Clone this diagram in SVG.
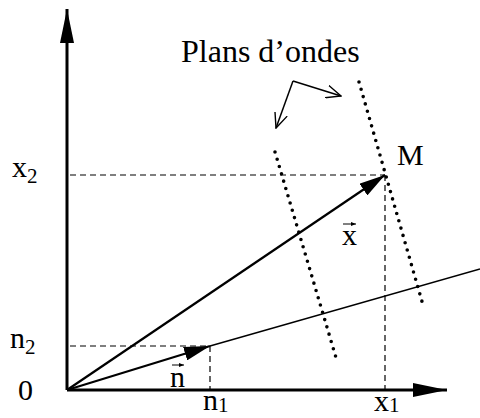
<svg xmlns="http://www.w3.org/2000/svg" width="480" height="418" viewBox="0 0 480 418">
<style>
text{font-family:"Liberation Serif","Times New Roman",serif;font-size:30px;fill:#000}
.title{font-size:32px}
.sub{font-size:21px}
.axis{stroke:#000;stroke-width:3;fill:none}
.dash{stroke:#000;stroke-width:1.2;stroke-dasharray:6 4;fill:none}
.dot{stroke:#000;stroke-width:3.6;stroke-linecap:round;stroke-dasharray:0 7.6;fill:none}
.thin{stroke:#000;stroke-width:1.5;fill:none}
.vecline{stroke:#000;stroke-width:2.2;fill:none}
.acc{stroke:#000;stroke-width:1;fill:none}
</style>
<defs>
<marker id="axhead" viewBox="0 0 34 14" refX="34" refY="7" markerWidth="34" markerHeight="14" markerUnits="userSpaceOnUse" orient="auto">
<path d="M0,0 L34,7 L0,14 z" fill="#000"/>
</marker>
<marker id="vhead" viewBox="0 0 26 14" refX="26" refY="7" markerWidth="26" markerHeight="14" markerUnits="userSpaceOnUse" orient="auto">
<path d="M0,0 L26,7 L0,14 z" fill="#000"/>
</marker>
<marker id="open" viewBox="0 0 16 14" refX="15" refY="7" markerWidth="16" markerHeight="14" markerUnits="userSpaceOnUse" orient="auto">
<path d="M0,0.5 L15,7 L0,13.5" fill="none" stroke="#000" stroke-width="1.4"/>
</marker>
<marker id="acchead" viewBox="0 0 5 4" refX="5" refY="2" markerWidth="5" markerHeight="4" markerUnits="userSpaceOnUse" orient="auto">
<path d="M0,0 L5,2 L0,4 z" fill="#000"/>
</marker>
</defs>
<g id="axes">
<line class="axis" x1="67" y1="390" x2="67" y2="9" marker-end="url(#axhead)"/>
<line class="axis" x1="67" y1="390" x2="447" y2="390" marker-end="url(#axhead)"/>
</g>
<g id="connectors">
<line class="dash" x1="70" y1="175" x2="385" y2="175"/>
<line class="dash" x1="385" y1="175" x2="385" y2="389"/>
<line class="dash" x1="70" y1="346" x2="210" y2="346"/>
<line class="dash" x1="210" y1="346" x2="210" y2="389"/>
<line class="thin" x1="210" y1="346" x2="480" y2="269"/>
<line class="vecline" x1="67" y1="390" x2="385" y2="175" marker-end="url(#vhead)"/>
<line class="vecline" x1="67" y1="390" x2="210" y2="346" marker-end="url(#vhead)"/>
<line class="thin" x1="293" y1="81" x2="276" y2="128" marker-end="url(#open)"/>
<line class="thin" x1="293" y1="81" x2="341" y2="96" marker-end="url(#open)"/>
</g>
<g id="plans">
<line class="dot" x1="275" y1="152" x2="337" y2="361"/>
<line class="dot" x1="359" y1="82" x2="423" y2="305"/>
</g>
<g id="accents">
<line class="acc" x1="343" y1="224" x2="356" y2="224" marker-end="url(#acchead)"/>
<line class="acc" x1="172" y1="365" x2="184" y2="365" marker-end="url(#acchead)"/>
</g>
<g id="labels">
<text class="title" x="181" y="62">Plans d’ondes</text>
<text x="397" y="165">M</text>
<text x="12" y="177">x<tspan class="sub" dy="6">2</tspan></text>
<text x="10" y="348">n<tspan class="sub" dy="6">2</tspan></text>
<text x="18" y="400">0</text>
<text x="203" y="410">n<tspan class="sub" dy="2">1</tspan></text>
<text x="374" y="411">x<tspan class="sub" dy="1">1</tspan></text>
<text x="342" y="245">x</text>
<text x="170" y="387">n</text>
</g>
</svg>
